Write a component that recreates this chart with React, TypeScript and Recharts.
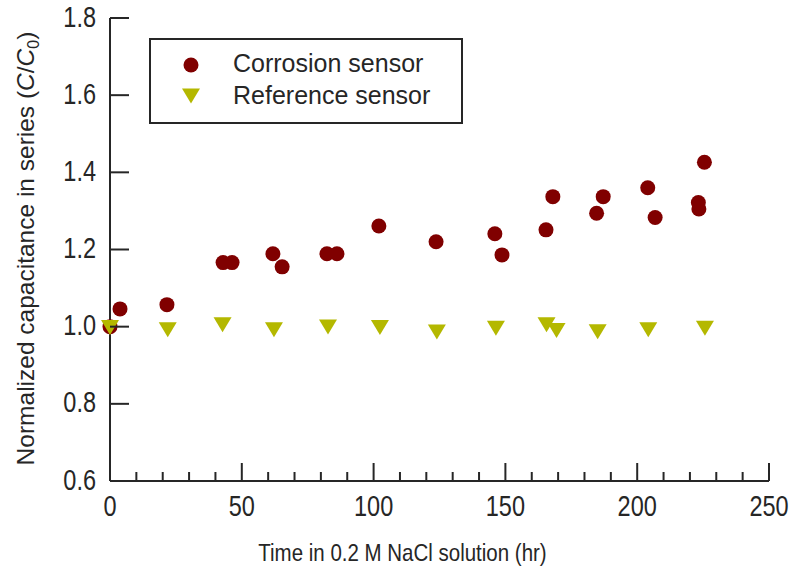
import React from "react";
import { ScatterChart, Scatter, XAxis, YAxis } from "recharts";

// corrosion sensor readings (hr, C/C0)
const corrosionHours = [0, 3.8, 21.6, 42.9, 46.3, 61.8, 65.3, 82.3, 86.1, 102, 123.7, 146, 148.7, 165.4, 168, 184.6, 187.1, 204, 206.8, 223.2, 223.4, 225.5];
const corrosionRatio = [1.0, 1.046, 1.057, 1.166, 1.166, 1.189, 1.155, 1.189, 1.189, 1.261, 1.22, 1.241, 1.186, 1.251, 1.337, 1.294, 1.337, 1.36, 1.283, 1.322, 1.305, 1.426];

// reference sensor readings
const referenceHours = [0, 21.9, 42.7, 62.2, 82.7, 102.4, 124, 146.4, 165.6, 169.4, 185, 204.2, 225.7];
const referenceRatio = [0.998, 0.992, 1.005, 0.992, 0.999, 0.998, 0.986, 0.996, 1.005, 0.99, 0.987, 0.992, 0.996];

const xTicks = [0, 10, 20, 30, 40, 50, 60, 70, 80, 90, 100, 110, 120, 130, 140, 150, 160, 170, 180, 190, 200, 210, 220, 230, 240, 250];
const xLabels = [0, 50, 100, 150, 200, 250];
const yTicks = [0.6, 0.8, 1.0, 1.2, 1.4, 1.6, 1.8];

const corrosion = corrosionHours.map((t, i) => ({ t, v: corrosionRatio[i] }));
const reference = referenceHours.map((t, i) => ({ t, v: referenceRatio[i] }));

const RED = "#800000";
const OLIVE = "#b4b800";
const INK = "#262626";
const FONT = "'Liberation Sans', Arial, sans-serif";

const X_MARGIN = 10;
const Y_MARGIN = 14;
const STRETCH = 1.27; // tick digits in the original are drawn tall and narrow

const XTick = (props: any) => {
  const { x, y, payload } = props;
  const axisY = y - X_MARGIN;
  const major = xLabels.includes(payload.value);
  return (
    <g>
      <line x1={x} x2={x} y1={axisY} y2={axisY - (major ? 18 : 9)} stroke={INK} strokeWidth={2} />
      {major && (
        <text
          transform={`translate(${x},${y + 25}) scale(1,${STRETCH})`}
          textAnchor="middle"
          fontSize={23.5}
          fill={INK}
          fontFamily={FONT}
        >
          {payload.value}
        </text>
      )}
    </g>
  );
};

const YTick = (props: any) => {
  const { x, y, payload } = props;
  const axisX = x + Y_MARGIN;
  return (
    <g>
      <line x1={axisX} x2={axisX + 19} y1={y} y2={y} stroke={INK} strokeWidth={2} />
      <text
        transform={`translate(${x},${y + 8.5}) scale(1,${STRETCH})`}
        textAnchor="end"
        fontSize={23.5}
        fill={INK}
        fontFamily={FONT}
      >
        {Number(payload.value).toFixed(1)}
      </text>
    </g>
  );
};

const Dot = (p: any) => <circle cx={p.cx} cy={p.cy} r={7.5} fill={RED} />;
const DownTri = (p: any) => (
  <polygon
    points={`${p.cx - 9},${p.cy - 7.5} ${p.cx + 9},${p.cy - 7.5} ${p.cx},${p.cy + 7.5}`}
    fill={OLIVE}
  />
);

const xTitle = (props: any) => {
  const vb = props.viewBox;
  const tx = vb.x + vb.width / 2 - 37;
  const ty = vb.y + 80;
  return (
    <text
      transform={`translate(${tx},${ty}) scale(1,1.2)`}
      textAnchor="middle"
      fontSize={20.5}
      fill={INK}
      fontFamily={FONT}
    >
      Time in 0.2 M NaCl solution (hr)
    </text>
  );
};

const yTitle = (props: any) => {
  const vb = props.viewBox;
  const cx = vb.x - 23;
  const cy = vb.y + vb.height / 2 - 1;
  return (
    <text
      x={cx}
      y={cy}
      dy={7}
      transform={`rotate(-90 ${cx} ${cy})`}
      textAnchor="middle"
      fontSize={24.5}
      fill={INK}
      fontFamily={FONT}
    >
      Normalized capacitance in series (<tspan fontStyle="italic">C</tspan>/<tspan fontStyle="italic">C</tspan>
      <tspan fontSize={16} dy={5}>0</tspan>
      <tspan dy={-5}>)</tspan>
    </text>
  );
};

function Legend() {
  return (
    <div
      style={{
        position: "absolute",
        left: 149,
        top: 38,
        width: 310,
        height: 82,
        border: `2px solid ${INK}`,
        background: "#fff",
        fontFamily: FONT,
        fontSize: 25,
        color: INK,
      }}
    >
      <svg width={20} height={20} style={{ position: "absolute", left: 30, top: 15 }}>
        <circle cx={10} cy={10} r={7.5} fill={RED} />
      </svg>
      <svg width={20} height={20} style={{ position: "absolute", left: 30, top: 46 }}>
        <polygon points="1,2.5 19,2.5 10,17.5" fill={OLIVE} />
      </svg>
      <div style={{ position: "absolute", left: 82, top: 9, lineHeight: "28px", whiteSpace: "nowrap" }}>Corrosion sensor</div>
      <div style={{ position: "absolute", left: 82, top: 41, lineHeight: "28px", whiteSpace: "nowrap" }}>Reference sensor</div>
    </div>
  );
}

export default function App() {
  return (
    <div style={{ position: "absolute", left: 0, top: 0, width: 790, height: 571, background: "#fff", overflow: "hidden" }}>
      <ScatterChart width={790} height={571} margin={{ top: 18, right: 21, bottom: 10, left: 50 }} style={{ overflow: "visible" }}>
        <XAxis
          xAxisId="b"
          type="number"
          dataKey="t"
          domain={[0, 250]}
          ticks={xTicks}
          interval={0}
          height={80}
          tickSize={0}
          tickMargin={X_MARGIN}
          tickLine={false}
          tick={<XTick />}
          axisLine={{ stroke: INK, strokeWidth: 2 }}
          label={xTitle}
        />
        <XAxis xAxisId="t" orientation="top" type="number" dataKey="t" domain={[0, 250]} height={0} tick={false} tickLine={false} axisLine={{ stroke: INK, strokeWidth: 2 }} />
        <YAxis
          yAxisId="l"
          type="number"
          dataKey="v"
          domain={[0.6, 1.8]}
          ticks={yTicks}
          interval={0}
          width={60}
          tickSize={0}
          tickMargin={Y_MARGIN}
          tickLine={false}
          tick={<YTick />}
          axisLine={{ stroke: INK, strokeWidth: 2 }}
          label={yTitle}
        />
        <YAxis yAxisId="r" orientation="right" type="number" dataKey="v" domain={[0.6, 1.8]} width={0} tick={false} tickLine={false} axisLine={{ stroke: INK, strokeWidth: 2 }} />
        <Scatter xAxisId="b" yAxisId="l" data={corrosion} shape={Dot} isAnimationActive={false} />
        <Scatter xAxisId="b" yAxisId="l" data={reference} shape={DownTri} isAnimationActive={false} />
      </ScatterChart>
      <Legend />
    </div>
  );
}
